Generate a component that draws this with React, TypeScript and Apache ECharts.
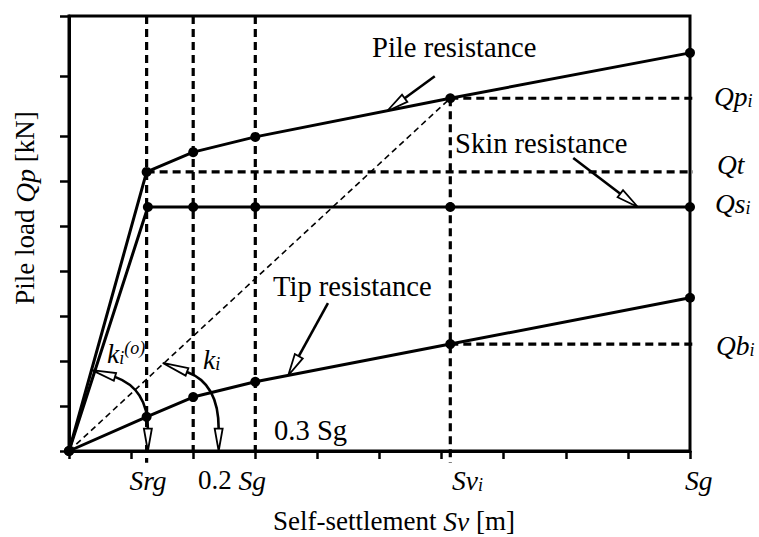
import React, { useEffect, useRef } from 'react';
import * as echarts from 'echarts';

// ---- data (settlement units: Sg = 10, load units: arbitrary) ----
const settlement = [0, 1.25, 2, 3, 6.14, 10]; // 0, Srg, 0.2Sg, 0.3Sg, Sv_i, Sg
const skinSettlement = [0, 1.27, 2, 3, 6.14, 10];
const pileLoad = [0, 6.21, 6.65, 6.99, 7.85, 8.86];
const skinLoad = [0, 5.43, 5.43, 5.43, 5.43, 5.43];
const tipLoad = [0, 0.76, 1.2, 1.54, 2.38, 3.41];
const yTickValues = [0, 1, 2, 3, 4, 5, 6, 7, 8.35, 9.68];
const X_MAX = 10;
const Y_MAX = 9.68;
const GUIDE_END = 10.37; // right-side extension of reference lines
const GUIDE_BELOW = -0.26;

const FONT = 'Liberation Serif';

const rich = {
  n: { fontFamily: FONT, fontSize: 27, color: '#000', lineHeight: 28 },
  big: { fontFamily: FONT, fontSize: 28.6, color: '#000', lineHeight: 30 },
  it: { fontFamily: FONT, fontSize: 27.5, fontStyle: 'italic', color: '#000', lineHeight: 28 },
  sub: { fontFamily: FONT, fontSize: 18, fontStyle: 'italic', color: '#000', lineHeight: 9, verticalAlign: 'bottom' },
  sup: { fontFamily: FONT, fontSize: 18, fontStyle: 'italic', color: '#000', lineHeight: 15, verticalAlign: 'top' },
};

const texts = [
  { t: '{big|Pile resistance}', x: 372, y: 47, align: 'left' },
  { t: '{big|Skin resistance}', x: 455, y: 143, align: 'left' },
  { t: '{big|Tip resistance}', x: 273, y: 286, align: 'left' },
  { t: '{big|0.3 Sg}', x: 274, y: 430, align: 'left' },
  { t: '{it|k}{sub|i}{sup|(o)}', x: 107, y: 353, align: 'left' },
  { t: '{it|k}{sub|i}', x: 203, y: 359, align: 'left' },
  { t: '{it|Srg}', x: 148, y: 480, align: 'center' },
  { t: '{n|0.2 }{it|Sg}', x: 198, y: 480, align: 'left' },
  { t: '{it|Sv}{sub|i}', x: 452, y: 480, align: 'left' },
  { t: '{it|Sg}', x: 685, y: 480, align: 'left' },
  { t: '{it|Qp}{sub|i}', x: 714, y: 96, align: 'left' },
  { t: '{it|Qt}', x: 717, y: 164, align: 'left' },
  { t: '{it|Qs}{sub|i}', x: 715, y: 203, align: 'left' },
  { t: '{it|Qb}{sub|i}', x: 716, y: 345, align: 'left' },
  { t: '{n|Self-settlement }{it|Sv}{n| [m]}', x: 394, y: 521, align: 'center' },
];

// straight arrows (data coords): tail -> tip
const straightArrows = [
  { tail: [5.89, 8.34], tip: [5.12, 7.56] },
  { tail: [8.12, 6.52], tip: [9.16, 5.43] },
  { tail: [4.17, 3.29], tip: [3.53, 1.68] },
];
// curved arrows (data coords)
const arcArrows = [
  { tip1: [0.37, 1.8], base1: [0.74, 1.65], c1: [1.04, 1.5], c2: [1.27, 1.18], base2: [1.27, 0.5], tip2: [1.27, 0] },
  { tip1: [1.51, 1.96], base1: [1.9, 1.76], c1: [2.22, 1.6], c2: [2.41, 1.2], base2: [2.41, 0.5], tip2: [2.41, 0] },
];

function zip(xs: number[], ys: number[]) {
  return xs.map((x, i) => [x, ys[i]]);
}

function dashed(data: number[][], width = 3.2, dash: number[] = [8, 5]) {
  return {
    type: 'line',
    data,
    symbol: 'none',
    clip: false,
    silent: true,
    lineStyle: { color: '#000', width, type: dash },
    z: 1,
  };
}

function curve(xs: number[], ys: number[], extra: number[][] = []) {
  const pts: any[] = zip(xs, ys).map((p) => ({ value: p }));
  extra.forEach((p) => pts.push({ value: p, symbol: 'none' }));
  return {
    type: 'line',
    data: pts,
    symbol: 'circle',
    symbolSize: 10,
    clip: false,
    itemStyle: { color: '#000' },
    lineStyle: { color: '#000', width: 3 },
    z: 3,
  };
}

export default function App() {
  const ref = useRef<HTMLDivElement>(null);
  useEffect(() => {
    if (!ref.current) return;
    const chart = echarts.init(ref.current, undefined, { renderer: 'svg' });
    const Srg = settlement[1];
    const s02 = settlement[2];
    const s03 = settlement[3];
    const Svi = settlement[4];
    const Qt = pileLoad[1];
    const Qpi = pileLoad[4];
    const Qbi = tipLoad[4];
    const Qsi = skinLoad[4];
    chart.setOption({
      animation: false,
      textStyle: { fontFamily: FONT },
      grid: { left: 69, top: 16, width: 621, height: 435, show: true, borderColor: '#000', borderWidth: 3 },
      xAxis: {
        type: 'value', min: 0, max: X_MAX, interval: 1,
        axisLine: { lineStyle: { color: '#000', width: 3 } },
        axisTick: { show: true, length: 8, lineStyle: { color: '#000', width: 2.5 } },
        axisLabel: { show: false },
        splitLine: { show: false },
      },
      yAxis: {
        type: 'value', min: 0, max: Y_MAX,
        axisLine: { show: true, lineStyle: { color: '#000', width: 3 } },
        axisTick: { show: true, length: 9, customValues: yTickValues, lineStyle: { color: '#000', width: 2.5 } },
        axisLabel: { show: false },
        splitLine: { show: false },
      },
      series: [
        dashed([[Srg, Y_MAX], [Srg, GUIDE_BELOW]]),
        dashed([[s02, Y_MAX], [s02, 0]]),
        dashed([[s03, Y_MAX], [s03, 0]]),
        dashed([[Svi, Qpi], [Svi, GUIDE_BELOW]]),
        dashed([[Srg, Qt], [GUIDE_END, Qt]]),
        dashed([[Svi, Qpi], [GUIDE_END, Qpi]]),
        dashed([[Svi, Qbi], [GUIDE_END, Qbi]]),
        dashed([[0, 0], [Svi, Qpi]], 1.6, [6, 4]),
        curve(settlement, pileLoad),
        curve(skinSettlement, skinLoad, [[GUIDE_END, Qsi]]),
        curve(settlement, tipLoad),
      ],
    });

    const P = (p: number[]) => chart.convertToPixel({ xAxisIndex: 0, yAxisIndex: 0 }, p) as number[];
    const head = (tip: number[], base: number[], hw: number) => {
      const dx = tip[0] - base[0];
      const dy = tip[1] - base[1];
      const L = Math.hypot(dx, dy) || 1;
      const nx = -dy / L;
      const ny = dx / L;
      return {
        type: 'polygon',
        z: 120,
        shape: { points: [tip, [base[0] + nx * hw, base[1] + ny * hw], [base[0] - nx * hw, base[1] - ny * hw]] },
        style: { fill: '#fff', stroke: '#000', lineWidth: 1.8 },
      };
    };
    const graphics: any[] = [];
    straightArrows.forEach((a) => {
      const tail = P(a.tail);
      const tip = P(a.tip);
      const dx = tail[0] - tip[0];
      const dy = tail[1] - tip[1];
      const L = Math.hypot(dx, dy);
      const hl = 22;
      const base = [tip[0] + (dx / L) * hl, tip[1] + (dy / L) * hl];
      graphics.push({ type: 'line', z: 110, shape: { x1: tail[0], y1: tail[1], x2: base[0], y2: base[1] }, style: { stroke: '#000', lineWidth: 2.6 } });
      graphics.push(head(tip, base, 4.5));
    });
    arcArrows.forEach((a) => {
      const t1 = P(a.tip1), b1 = P(a.base1), c1 = P(a.c1), c2 = P(a.c2), b2 = P(a.base2), t2 = P(a.tip2);
      graphics.push({
        type: 'bezierCurve', z: 110,
        shape: { x1: b1[0], y1: b1[1], cpx1: c1[0], cpy1: c1[1], cpx2: c2[0], cpy2: c2[1], x2: b2[0], y2: b2[1] },
        style: { stroke: '#000', lineWidth: 2.6, fill: 'none' },
      });
      graphics.push(head(t1, b1, 4));
      graphics.push(head(t2, b2, 4));
    });
    texts.forEach((t) => {
      graphics.push({
        type: 'text', x: t.x, y: t.y, z: 130,
        style: { text: t.t, rich, fontFamily: FONT, fontSize: 27, align: t.align, verticalAlign: 'middle', fill: '#000' },
      });
    });
    graphics.push({
      type: 'text', x: 25, y: 208, rotation: Math.PI / 2, z: 130,
      style: { text: '{n|Pile load }{it|Qp}{n| [kN]}', rich, fontFamily: FONT, fontSize: 27, align: 'center', verticalAlign: 'middle', fill: '#000' },
    });
    chart.setOption({ graphic: graphics });
    return () => chart.dispose();
  }, []);
  return <div ref={ref} style={{ position: 'fixed', left: 0, top: 0, width: 759, height: 537, background: '#fff' }} />;
}
